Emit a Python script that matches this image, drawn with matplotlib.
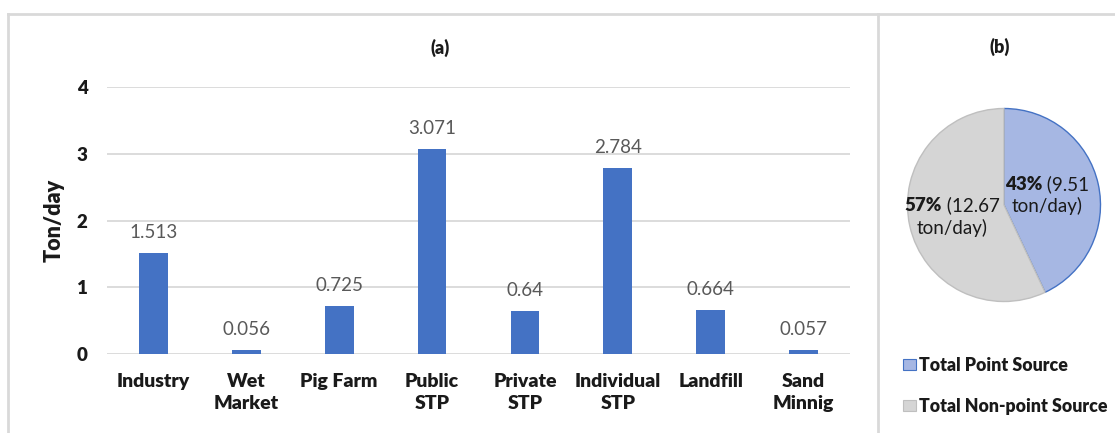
import matplotlib
matplotlib.use("Agg")
import matplotlib.pyplot as plt
import numpy as np
from matplotlib.patches import Patch
from matplotlib.lines import Line2D
from matplotlib.transforms import ScaledTranslation

# ---- data -------------------------------------------------------------
categories = ["Industry", "Wet\nMarket", "Pig Farm", "Public\nSTP",
              "Private\nSTP", "Individual\nSTP", "Landfill", "Sand\nMinnig"]
loads = [1.513, 0.056, 0.725, 3.071, 0.64, 2.784, 0.664, 0.057]
value_labels = ["1.513", "0.056", "0.725", "3.071", "0.64", "2.784", "0.664", "0.057"]
y_ticks = [0, 1, 2, 3, 4]

source_names = ["Total Point Source", "Total Non-point Source"]
source_share = [43, 57]
source_tons = ["9.51", "12.67"]

# ---- style ------------------------------------------------------------
plt.rcParams["font.family"] = ["Lato", "DejaVu Sans"]
BOLD = "heavy"
BAR_BLUE = "#4472C4"
GRID = "#D9D9D9"
TEXT = "#1A1A1A"
VALUE = "#595959"
PIE_FILL = ["#A6B7E3", "#D5D5D5"]
PIE_EDGE = ["#4472C4", "#BFBFBF"]

W, H, DPI = 1115, 433, 100
fig = plt.figure(figsize=(W / DPI, H / DPI), dpi=DPI)


def px_box(x0, y0, x1, y1):
    """Axes rectangle given in pixel coordinates measured from the top-left."""
    return [x0 / W, 1 - y1 / H, (x1 - x0) / W, (y1 - y0) / H]


# ---- outer frame and divider ------------------------------------------
for xs, ys in [([8 / W, 1.0], [1 - 14 / H, 1 - 14 / H]),
               ([8 / W, 8 / W], [0.0, 1 - 14 / H]),
               ([878 / W, 878 / W], [0.0, 1 - 14 / H])]:
    fig.add_artist(Line2D(xs, ys, transform=fig.transFigure, color=GRID, lw=2))

# ---- (a) bar chart ----------------------------------------------------
ax = fig.add_axes(px_box(107, 87, 850, 354))
x = np.arange(len(categories))
ax.bar(x, loads, width=0.31, color=BAR_BLUE, zorder=3)
ax.set_xlim(-0.5, len(categories) - 0.5)
ax.set_ylim(0, 4)
ax.set_yticks(y_ticks)
ax.set_yticklabels([str(v) for v in y_ticks], fontweight=BOLD, color=TEXT)
ax.set_xticks(x)
ax.set_xticklabels(categories, fontweight=BOLD, fontsize=14, color=TEXT,
                   linespacing=1.3)
ax.yaxis.grid(True, color=GRID, lw=1.3, zorder=0)
for s in ax.spines.values():
    s.set_visible(False)
ax.tick_params(length=0)
ax.tick_params(axis="y", pad=14, labelsize=13.5)
ax.tick_params(axis="x", pad=14)

for xi, v, lab in zip(x, loads, value_labels):
    ax.annotate(lab, (xi, v), xytext=(0, 10.8), textcoords="offset points",
                ha="center", va="baseline", fontsize=13.5, color=VALUE)

ax.set_ylabel("Ton/day", fontweight=BOLD, fontsize=15.5, color=TEXT)
ax.yaxis.label.set_va("center")
ax.yaxis.set_label_coords((54 - 107) / (850 - 107), 0.5)

fig.text(440 / W, 1 - 48 / H, "(a)", ha="center", va="center",
         fontweight=BOLD, fontsize=13, color=TEXT)

# ---- (b) pie chart ----------------------------------------------------
cx, cy, r = 1004, 205, 96.5
pax = fig.add_axes(px_box(cx - r, cy - r, cx + r, cy + r))
wedges, _ = pax.pie(source_share, colors=PIE_FILL, startangle=90,
                    counterclock=False, radius=1,
                    wedgeprops=dict(linewidth=1.0))
for w, ec in zip(wedges, PIE_EDGE):
    w.set_edgecolor(ec)
pax.set_xlim(-1, 1)
pax.set_ylim(-1, 1)

fig.text(cx / W - 4 / W, 1 - 47 / H, "(b)", ha="center", va="center",
         fontweight=BOLD, fontsize=13, color=TEXT)

label_dist = [0.46, 0.55]
first_lines = []
for w, share, tons, d in zip(wedges, source_share, source_tons, label_dist):
    mid = np.deg2rad((w.theta1 + w.theta2) / 2)
    lx, ly = d * np.cos(mid), d * np.sin(mid)
    up = pax.transData + ScaledTranslation(0, 11 / DPI, fig.dpi_scale_trans)
    down = pax.transData + ScaledTranslation(0, -11 / DPI, fig.dpi_scale_trans)
    t1 = pax.text(lx, ly, f"{share}%", transform=up, ha="left", va="center",
                  fontweight=BOLD, fontsize=13.5, color=TEXT)
    t2 = pax.annotate(f" ({tons}", xy=(1, 0), xycoords=t1, ha="left",
                      va="bottom", fontsize=13.5, color=TEXT)
    pax.text(lx, ly, "ton/day)", transform=down, ha="center", va="center",
             fontsize=13.5, color=TEXT)
    first_lines.append((t1, t2, up))

# centre each mixed-weight first line on its anchor
fig.canvas.draw()
renderer = fig.canvas.get_renderer()
for t1, t2, up in first_lines:
    total = t1.get_window_extent(renderer).width + t2.get_window_extent(renderer).width
    t1.set_transform(up + ScaledTranslation(-total / 2 / DPI, 0, fig.dpi_scale_trans))

handles = [Patch(facecolor=f, edgecolor=e, lw=0.8) for f, e in zip(PIE_FILL, PIE_EDGE)]
leg = fig.legend(handles, source_names, loc="upper left",
                 bbox_to_anchor=(903 / W, 1 - 357 / H), frameon=False,
                 prop=dict(weight=BOLD, size=12.8),
                 handlelength=0.75, handleheight=0.6, handletextpad=0.15,
                 labelspacing=1.35, borderpad=0, borderaxespad=0)
for t in leg.get_texts():
    t.set_color(TEXT)

fig.savefig("out.png", dpi=DPI)
